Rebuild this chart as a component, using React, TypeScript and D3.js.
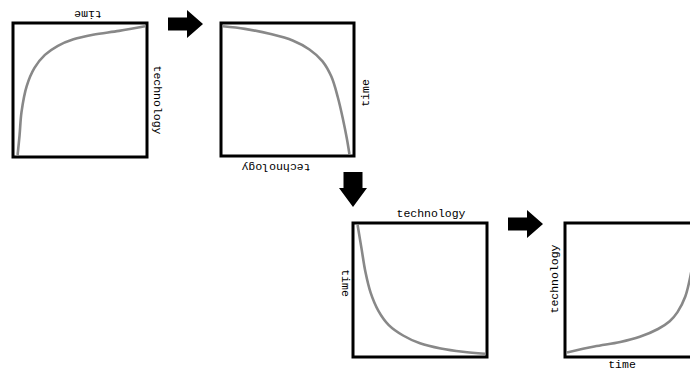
import React from "react";
import * as d3 from "d3";

// Curve samples, normalised to each panel: [x (0..1 left→right), y (0..1 bottom→top)]
const curve1: [number, number][] = [
  [0.02, 0.0], [0.035, 0.15], [0.05, 0.33], [0.09, 0.53], [0.15, 0.67], [0.23, 0.77],
  [0.33, 0.84], [0.45, 0.89], [0.6, 0.925], [0.8, 0.955], [1.0, 0.99],
];
const curve2: [number, number][] = [
  [0.0, 0.99], [0.17, 0.97], [0.37, 0.93], [0.54, 0.88], [0.67, 0.81], [0.77, 0.72],
  [0.84, 0.6], [0.89, 0.44], [0.93, 0.27], [0.96, 0.12], [0.98, 0.0],
];
const curve3: [number, number][] = [
  [0.02, 1.0], [0.05, 0.82], [0.08, 0.64], [0.12, 0.48], [0.18, 0.34], [0.26, 0.23],
  [0.37, 0.15], [0.5, 0.09], [0.66, 0.05], [0.83, 0.025], [1.0, 0.01],
];
const curve4: [number, number][] = [
  [0.0, 0.02], [0.21, 0.065], [0.41, 0.1], [0.56, 0.14], [0.7, 0.2], [0.79, 0.26],
  [0.85, 0.33], [0.91, 0.45], [0.95, 0.61], [0.98, 0.8], [1.0, 0.99],
];

const labelTime = "time";
const labelTech = "technology";

type Panel = {
  x: number; y: number; size: number; data: [number, number][];
  labels: { text: string; x: number; y: number; rot: number }[];
};

const panels: Panel[] = [
  {
    x: 13, y: 23, size: 134, data: curve1,
    labels: [
      { text: labelTime, x: 88, y: 14, rot: 180 },
      { text: labelTech, x: 157, y: 100, rot: 90 },
    ],
  },
  {
    x: 221, y: 23, size: 133, data: curve2,
    labels: [
      { text: labelTech, x: 276, y: 167, rot: 180 },
      { text: labelTime, x: 365, y: 93, rot: -90 },
    ],
  },
  {
    x: 353, y: 223, size: 134, data: curve3,
    labels: [
      { text: labelTech, x: 431, y: 213, rot: 0 },
      { text: labelTime, x: 345, y: 283, rot: 90 },
    ],
  },
  {
    x: 565, y: 223, size: 134, data: curve4,
    labels: [
      { text: labelTech, x: 554, y: 279, rot: -90 },
      { text: labelTime, x: 622, y: 364, rot: 0 },
    ],
  },
];

const rightArrow = "M0,-6.5 L19,-6.5 L19,-14 L35,0 L19,14 L19,6.5 L0,6.5 Z";
const downArrow = "M-9.5,0 L9.5,0 L9.5,16 L14,16 L0,35 L-14,16 L-9.5,16 Z";

function PanelView({ p }: { p: Panel }) {
  const xs = d3.scaleLinear().domain([0, 1]).range([p.x + 2, p.x + p.size - 2]);
  const ys = d3.scaleLinear().domain([0, 1]).range([p.y + p.size - 2, p.y + 2]);
  const line = d3
    .line<[number, number]>()
    .x((d) => xs(d[0]))
    .y((d) => ys(d[1]))
    .curve(d3.curveCatmullRom.alpha(0.5));
  return (
    <g>
      <path d={line(p.data) || ""} fill="none" stroke="#888" strokeWidth={2.6} />
      <rect x={p.x} y={p.y} width={p.size} height={p.size} fill="none" stroke="#000" strokeWidth={3} />
      {p.labels.map((l, i) => (
        <text
          key={i}
          transform={`translate(${l.x},${l.y}) rotate(${l.rot})`}
          textAnchor="middle"
          dominantBaseline="central"
          fontFamily="'Liberation Mono', 'DejaVu Sans Mono', monospace"
          fontSize={11.5}
          fill="#000"
        >
          {l.text}
        </text>
      ))}
    </g>
  );
}

export default function App() {
  return (
    <svg
      width={690}
      height={370}
      style={{ position: "absolute", left: 0, top: 0, background: "#fff" }}
    >
      <rect width={690} height={370} fill="#fff" />
      {panels.map((p, i) => (
        <PanelView key={i} p={p} />
      ))}
      <path d={rightArrow} transform="translate(168,24)" fill="#000" />
      <path d={downArrow} transform="translate(353,172)" fill="#000" />
      <path d={rightArrow} transform="translate(508,224)" fill="#000" />
    </svg>
  );
}
